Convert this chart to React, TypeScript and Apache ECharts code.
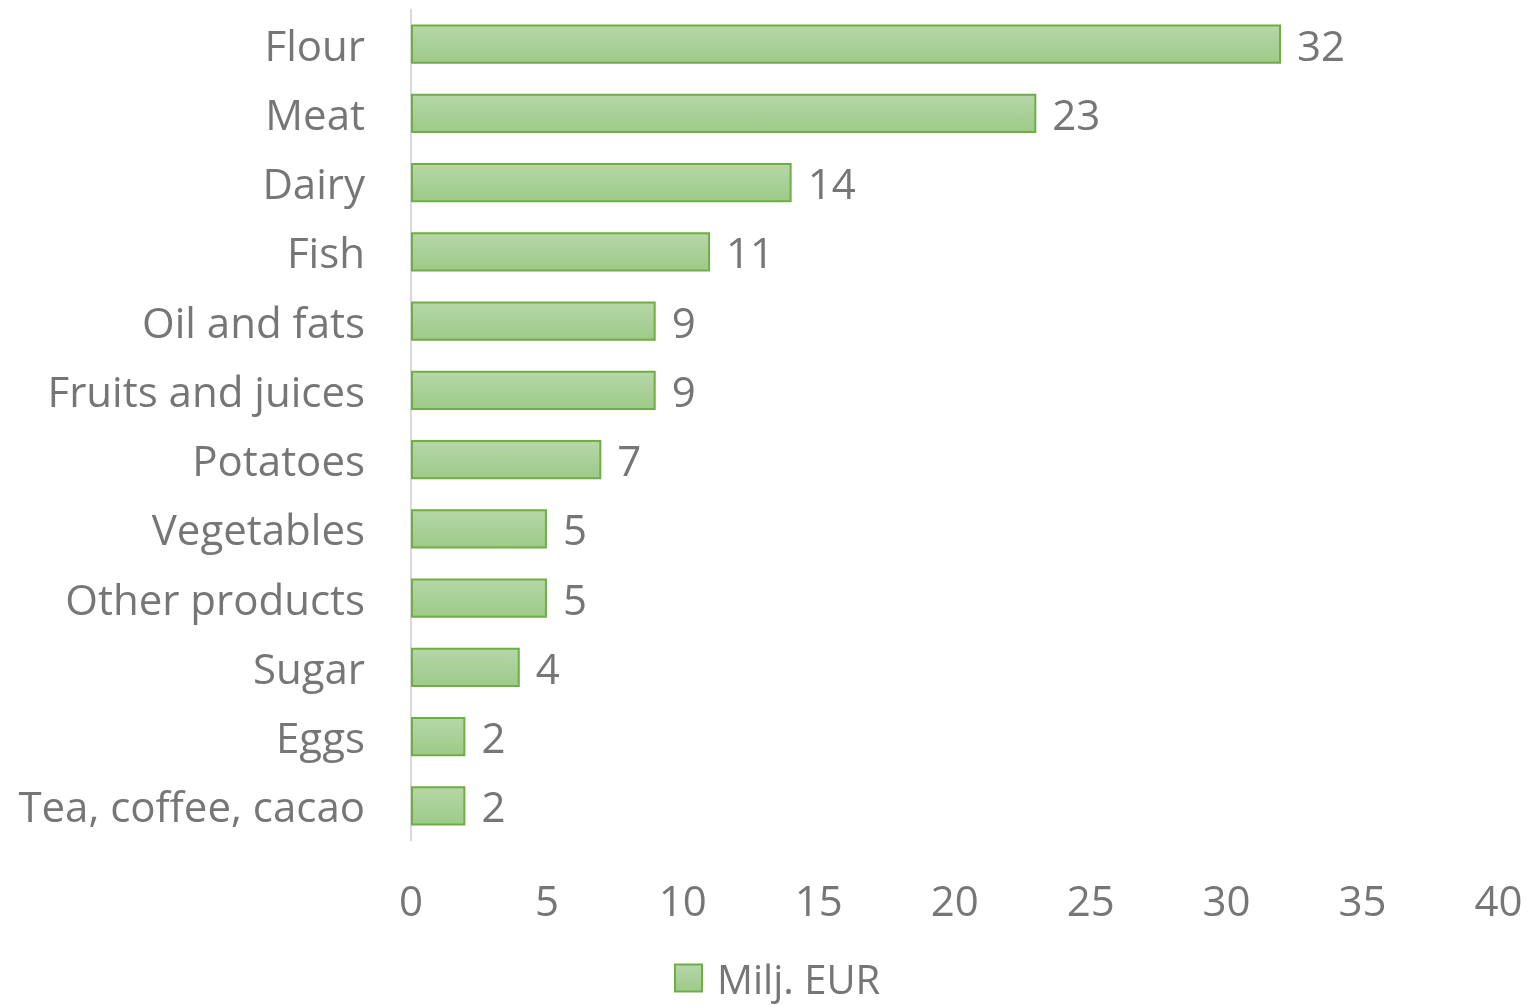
import React, { useEffect, useRef } from "react";
import * as echarts from "echarts";

const categories = [
  "Flour",
  "Meat",
  "Dairy",
  "Fish",
  "Oil and fats",
  "Fruits and juices",
  "Potatoes",
  "Vegetables",
  "Other products",
  "Sugar",
  "Eggs",
  "Tea, coffee, cacao",
];
const values = [32, 23, 14, 11, 9, 9, 7, 5, 5, 4, 2, 2];
const seriesName = "Milj. EUR";
const xTicks = { min: 0, max: 40, interval: 5 };

const FONT = "'Open Sans', sans-serif";
const TEXT = "#767676";
const FS = 42;

export default function App() {
  const ref = useRef<HTMLDivElement>(null);
  useEffect(() => {
    if (!ref.current) return;
    const chart = echarts.init(ref.current, undefined, { renderer: "svg" });
    const fill = new echarts.graphic.LinearGradient(0, 0, 0, 1, [
      { offset: 0, color: "#b6d7a8" },
      { offset: 1, color: "#9dca89" },
    ]);
    chart.setOption({
      animation: false,
      textStyle: { fontFamily: FONT },
      grid: { left: 411, right: 28.5, top: 9.5, bottom: 1006 - 840.5, containLabel: false },
      legend: {
        show: true,
        top: 958,
        left: 674,
        icon: "rect",
        itemWidth: 27,
        itemHeight: 27,
        itemGap: 10,
        padding: 0,
        textStyle: {
          color: TEXT,
          fontSize: 40,
          lineHeight: 40,
          fontFamily: FONT,
          padding: [0, 0, 0, 10],
        },
        data: [seriesName],
      },
      xAxis: {
        type: "value",
        min: xTicks.min,
        max: xTicks.max,
        interval: xTicks.interval,
        axisLine: { show: false },
        axisTick: { show: false },
        splitLine: { show: false },
        axisLabel: { color: TEXT, fontSize: FS, margin: 38, fontFamily: FONT },
      },
      yAxis: {
        type: "category",
        data: categories,
        inverse: true,
        axisLine: { show: true, lineStyle: { color: "#d9d9d9", width: 2 } },
        axisTick: { show: false },
        axisLabel: { color: TEXT, fontSize: FS, margin: 46, fontFamily: FONT },
      },
      series: [
        {
          name: seriesName,
          type: "bar",
          data: values,
          barWidth: "57%",
          itemStyle: { color: fill, borderColor: "#70ad47", borderWidth: 2 },
          label: {
            show: true,
            position: "right",
            distance: 16,
            color: TEXT,
            fontSize: FS,
            fontFamily: FONT,
          },
        },
      ],
    });
    return () => chart.dispose();
  }, []);
  return (
    <div
      ref={ref}
      style={{ position: "fixed", left: 0, top: 0, width: 1527, height: 1006 }}
    />
  );
}
